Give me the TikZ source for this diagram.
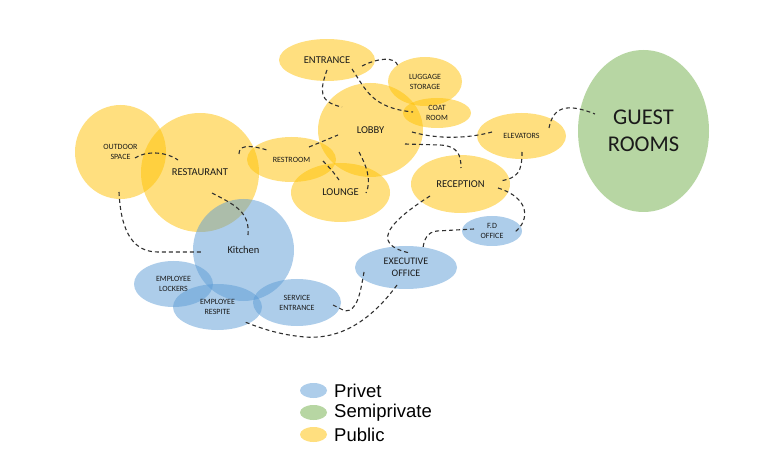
\documentclass[tikz,border=0pt]{standalone}
\usepackage{fontspec}
\setmainfont{Carlito}
\newfontfamily\legendfont{Liberation Sans}
\usetikzlibrary{shapes.geometric,calc}
\definecolor{pubc}{HTML}{FFC000}
\definecolor{privc}{HTML}{5B9BD5}
\definecolor{semic}{HTML}{70AD47}
\definecolor{labelc}{HTML}{1A1A1A}
\definecolor{linkc}{HTML}{303030}
\tikzset{
  zone/.style={ellipse, inner sep=0pt, align=center, text=labelc, fill opacity=0.5, text opacity=1},
  pub/.style={zone, fill=pubc},
  priv/.style={zone, fill=privc},
  semi/.style={zone, fill=semic},
  sm/.style={font=\fontsize{8}{10}\selectfont},
  md/.style={font=\fontsize{10.5}{12}\selectfont},
  link/.style={draw=linkc, dash pattern=on 4pt off 3pt, line width=1.1pt},
  legdot/.style={ellipse, inner sep=0pt, minimum width=27pt, minimum height=15pt, fill opacity=0.5},
  legtext/.style={anchor=west, inner sep=0pt, font=\legendfont\fontsize{18.5}{20}\selectfont, text=black},
}
\begin{document}
\begin{tikzpicture}[x=1pt,y=-1pt]
\useasboundingbox (0,0) rectangle (768,462);
% public zones
\node[pub, sm, minimum width=91pt, minimum height=94pt] (out) at (120.5,152) {OUTDOOR\\SPACE};
\node[pub, md, minimum width=118pt, minimum height=119pt] (rest) at (200,172.5) {RESTAURANT};
\node[pub, sm, minimum width=89pt, minimum height=45pt] (rr) at (291.5,159.5) {RESTROOM};
\node[pub, md, minimum width=96pt, minimum height=42pt] (ent) at (327,60) {ENTRANCE};
\node[pub, sm, minimum width=74pt, minimum height=49pt] (lug) at (425,81.5) {LUGGAGE\\STORAGE};
\node[pub, sm, minimum width=68pt, minimum height=30pt] (coat) at (437,113) {COAT\\ROOM};
\node[pub, md, minimum width=105pt, minimum height=94pt] (lobby) at (370.5,130) {LOBBY};
\node[pub, md, minimum width=99pt, minimum height=59pt] (lounge) at (340.5,192.5) {LOUNGE};
\node[pub, md, minimum width=99pt, minimum height=58pt] (recep) at (460.5,184) {RECEPTION};
\node[pub, sm, minimum width=89pt, minimum height=46pt] (elev) at (521.5,136) {ELEVATORS};
% semiprivate
\node[semi, font=\fontsize{22.5}{27}\selectfont, minimum width=131pt, minimum height=162pt] (guest) at (643.5,131) {GUEST\\ROOMS};
% private zones
\node[priv, sm, minimum width=60pt, minimum height=30pt] (fd) at (492,231) {F.D\\OFFICE};
\node[priv, font=\fontsize{10}{12}\selectfont, minimum width=102pt, minimum height=43pt] (exec) at (406,267.5) {EXECUTIVE\\OFFICE};
\node[priv, md, minimum width=101pt, minimum height=102pt] (kit) at (243.5,250) {Kitchen};
\node[priv, sm, minimum width=79pt, minimum height=46pt] (lock) at (173.5,284) {EMPLOYEE\\LOCKERS};
\node[priv, sm, minimum width=89pt, minimum height=46pt] (resp) at (217.5,307) {EMPLOYEE\\RESPITE};
\node[priv, sm, minimum width=88pt, minimum height=47pt] (serv) at (297,302.5) {SERVICE\\ENTRANCE};
% connectors
\draw[link] ($(out)+(14.5,6)$) .. controls (145,151) and (165,151) .. ($(rest)+(-22,-12.5)$);
\draw[link] ($(rest)+(39,-18.5)$) .. controls (239,146) and (247,144) .. ($(rr)+(-24.5,-9.5)$);
\draw[link] ($(rest)+(12,20.5)$) .. controls (235,205) and (250,212) .. ($(kit)+(4.5,-15)$);
\draw[link] ($(out)+(-1.5,40)$) .. controls (121,235) and (135,252) .. (158,252) -- ($(kit)+(-40.5,2)$);
\draw[link] ($(rr)+(17.5,-12.5)$) -- ($(lobby)+(-32.5,5)$);
\draw[link] ($(rr)+(31.5,1.5)$) .. controls (330,168) and (335,174) .. ($(lounge)+(-1.5,-12.5)$);
\draw[link] ($(lobby)+(-11.5,22)$) .. controls (366,165) and (372,180) .. ($(lounge)+(25.5,0.5)$);
\draw[link] ($(ent)+(0,10)$) .. controls (320,90) and (318,102) .. ($(lobby)+(-28.5,-23)$);
\draw[link] ($(ent)+(25,9)$) .. controls (366,90) and (372,108) .. ($(coat)+(-24,-1)$);
\draw[link] ($(ent)+(35,6)$) .. controls (378,58) and (395,56) .. ($(lug)+(-27,-15.5)$);
\draw[link] ($(lobby)+(41.5,2)$) .. controls (440,140) and (470,138) .. ($(elev)+(-29.5,-4)$);
\draw[link] ($(lobby)+(34.5,14)$) -- (440,145) .. controls (458,146) and (461,155) .. ($(recep)+(0.5,-16)$);
\draw[link] ($(elev)+(27.5,-8)$) .. controls (553,108) and (565,102) .. ($(guest)+(-48.5,-17)$);
\draw[link] ($(elev)+(0.5,16)$) .. controls (522,172) and (518,178) .. ($(recep)+(39.5,-3)$);
\draw[link] ($(recep)+(37.5,4)$) .. controls (530,198) and (530,220) .. ($(fd)+(23,1)$);
\draw[link] ($(fd)+(-18,-2)$) -- (437,231) .. controls (427,232) and (424,240) .. ($(exec)+(17,-19.5)$);
\draw[link] ($(recep)+(-30.5,12)$) .. controls (400,215) and (385,230) .. (388,240) .. controls (390,247) and (400,251) .. ($(exec)+(4,-14.5)$);
\draw[link] ($(exec)+(-42,4.5)$) .. controls (360,295) and (357,311) .. (345,311) -- ($(serv)+(36,2.5)$);
\draw[link] ($(exec)+(-9,17.5)$) .. controls (375,315) and (345,340) .. (305,337) .. controls (280,335) and (260,328) .. ($(resp)+(27.5,15)$);
% legend
\node[legdot, fill=privc] (lp) at (313.5,390.5) {};
\node[legdot, fill=semic] (ls) at (313.5,412.5) {};
\node[legdot, fill=pubc] (lu) at (313.5,434.5) {};
\node[legtext] (tp) at (334,390.5) {Privet};
\node[legtext] (ts) at (334,412.5) {Semiprivate};
\node[legtext] (tu) at (334,434.5) {Public};
\end{tikzpicture}
\end{document}
